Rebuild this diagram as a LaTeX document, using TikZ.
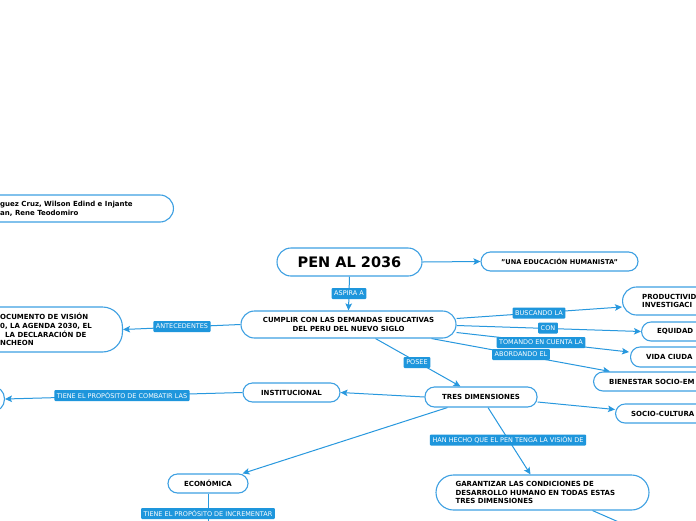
\documentclass[tikz,border=0pt]{standalone}
\usepackage{fontspec}
\setmainfont{DejaVu Sans}
\usetikzlibrary{arrows.meta,calc}
\pgfdeclarelayer{bg}
\pgfsetlayers{bg,main}
\definecolor{bdr}{RGB}{62,160,226}
\definecolor{lbl}{RGB}{30,150,220}
\definecolor{conn}{RGB}{40,152,222}
\tikzset{
  pill/.style={draw=bdr, line width=1.1pt, fill=white, rounded corners=#1, inner sep=0pt,
    font=\fontsize{7}{8.7}\selectfont\bfseries, text=black, align=center},
  pill/.default=9.5pt,
  txt/.style={anchor=west, inner sep=0pt, align=left, font=\fontsize{7}{8.7}\selectfont\bfseries, text=black},
  lab/.style={fill=lbl, text=white, font=\fontsize{6.5}{7}\selectfont, inner xsep=2.6pt, inner ysep=0pt,
    minimum height=11pt, rounded corners=1pt},
  con/.style={draw=conn, line width=1pt},
  arr/.style={con, -{Stealth[length=7pt,width=6.5pt,inset=1.5pt]}}
}
\begin{document}
\begin{tikzpicture}[x=1pt,y=-1pt]
\useasboundingbox (0,0) rectangle (696,520);
\begin{pgfonlayer}{bg}
\fill[white] (0,0) rectangle (696,520);
\end{pgfonlayer}
\clip (0,0) rectangle (696,520);
% main nodes
\node[pill=13.5pt, minimum width=250pt, minimum height=27pt, anchor=east] (auth) at (174,208.5) {};
\node[txt] (authtxt) at (0,208.5) {guez Cruz, Wilson Edind e Injante\\an, Rene Teodomiro};
\node[pill=14pt, minimum width=145pt, minimum height=28pt, font=\fontsize{14.5}{16}\selectfont\bfseries] (pen) at (349.5,262) {PEN AL 2036};
\node[pill, minimum width=157pt, minimum height=19pt, font=\fontsize{6.6}{8}\selectfont\bfseries] (una) at (559.5,261.5) {"UNA EDUCACIÓN HUMANISTA"};
\node[pill=13.5pt, minimum width=215pt, minimum height=27pt] (cumplir) at (348.5,324.5) {CUMPLIR CON LAS DEMANDAS EDUCATIVAS\\DEL PERU DEL NUEVO SIGLO};
\node[pill=20pt, minimum width=200pt, minimum height=45pt, anchor=east] (doc) at (123,329.5) {};
\node[txt] (doctxt) at (0,329.5) {OCUMENTO DE VISIÓN\\0, LA AGENDA 2030, EL\\\hspace*{5pt}LA DECLARACIÓN DE\\NCHEON};
\node[pill=14pt, minimum width=120pt, minimum height=28pt, anchor=west] (prod) at (622,301) {};
\node[txt] (prodtxt) at (642,301) {PRODUCTIVID\\INVESTIGACI};
\node[pill, minimum width=100pt, minimum height=19pt, anchor=west] (equ) at (641,331.5) {};
\node[txt] (equtxt) at (657,331.5) {EQUIDAD};
\node[pill, minimum width=110pt, minimum height=20pt, anchor=west] (vida) at (630,357) {};
\node[txt] (vidatxt) at (646,357) {VIDA CIUDA};
\node[pill, minimum width=150pt, minimum height=19pt, anchor=west] (bien) at (593,381.5) {};
\node[txt] (bientxt) at (609,381.5) {BIENESTAR SOCIO-EM};
\node[pill, minimum width=120pt, minimum height=19pt, anchor=west] (socio) at (615,413.5) {};
\node[txt] (sociotxt) at (631,413.5) {SOCIO-CULTURA};
\node[pill, minimum width=112pt, minimum height=20pt] (tres) at (481,397) {TRES DIMENSIONES};
\node[pill, minimum width=97pt, minimum height=19pt] (inst) at (291.5,392.5) {INSTITUCIONAL};
\node[pill=12pt, minimum width=100pt, minimum height=25pt, anchor=east] (lft) at (5,399) {};
\node[pill, minimum width=80pt, minimum height=19pt] (eco) at (208,483.5) {ECONÓMICA};
\node[pill=17.5pt, minimum height=35pt, text width=174pt, inner xsep=19.5pt, align=left] (gar) at (542.5,492.5) {GARANTIZAR LAS CONDICIONES DE\\DESARROLLO HUMANO EN TODAS ESTAS\\TRES DIMENSIONES};
\coordinate (garend) at (660,540);
\coordinate (incrend) at (208,535);
% connectors
\begin{pgfonlayer}{bg}
\begin{scope}
\clip (0,0) rectangle (696,520);
\draw[arr] (pen.east) -- (una.west);
\draw[arr] (pen.south) -- (cumplir.north);
\draw[arr] (cumplir.west) -- (doc.east);
\draw[arr] ([yshift=6pt]cumplir.east) -- ([yshift=-6pt]prod.west);
\draw[arr] ([yshift=-1pt]cumplir.east) -- (equ.west);
\draw[arr] ([yshift=-8pt]cumplir.east) -- ([xshift=-1pt,yshift=5pt]vida.west);
\draw[arr] ([xshift=83pt]cumplir.south) -- ([xshift=17pt]bien.north west);
\draw[arr] ([xshift=27pt]cumplir.south) -- ([xshift=36pt]tres.north west);
\draw[arr] (tres.west) -- (inst.east);
\draw[arr] (inst.west) -- (lft.east);
\draw[arr] ([xshift=23pt]tres.south west) -- ([xshift=-6pt]eco.north east);
\draw[arr] ([yshift=-5pt]tres.east) -- ([yshift=4pt]socio.west);
\draw[arr] ([xshift=7pt]tres.south) -- ([xshift=-12pt]gar.north);
\draw[con] (eco.south) -- (incrend);
\draw[con] ([xshift=50pt]gar.south) -- (garend);
\end{scope}
\end{pgfonlayer}
% labels
\node[lab] (aspira) at (349,293.5) {ASPIRA A};
\node[lab] (antec) at (182,326.5) {ANTECEDENTES};
\node[lab] (busc) at (539,313) {BUSCANDO LA};
\node[lab] (conl) at (548,328) {CON};
\node[lab] (toma) at (541,342.5) {TOMANDO EN CUENTA LA};
\node[lab] (abor) at (521,354.5) {ABORDANDO EL};
\node[lab] (posee) at (417,362.5) {POSEE};
\node[lab] (comb) at (122,395.5) {TIENE EL PROPÓSITO DE COMBATIR LAS};
\node[lab] (han) at (508,440) {HAN HECHO QUE EL PEN TENGA LA VISIÓN DE};
\node[lab] (incr) at (208,513.5) {TIENE EL PROPÓSITO DE INCREMENTAR};
\end{tikzpicture}
\end{document}
